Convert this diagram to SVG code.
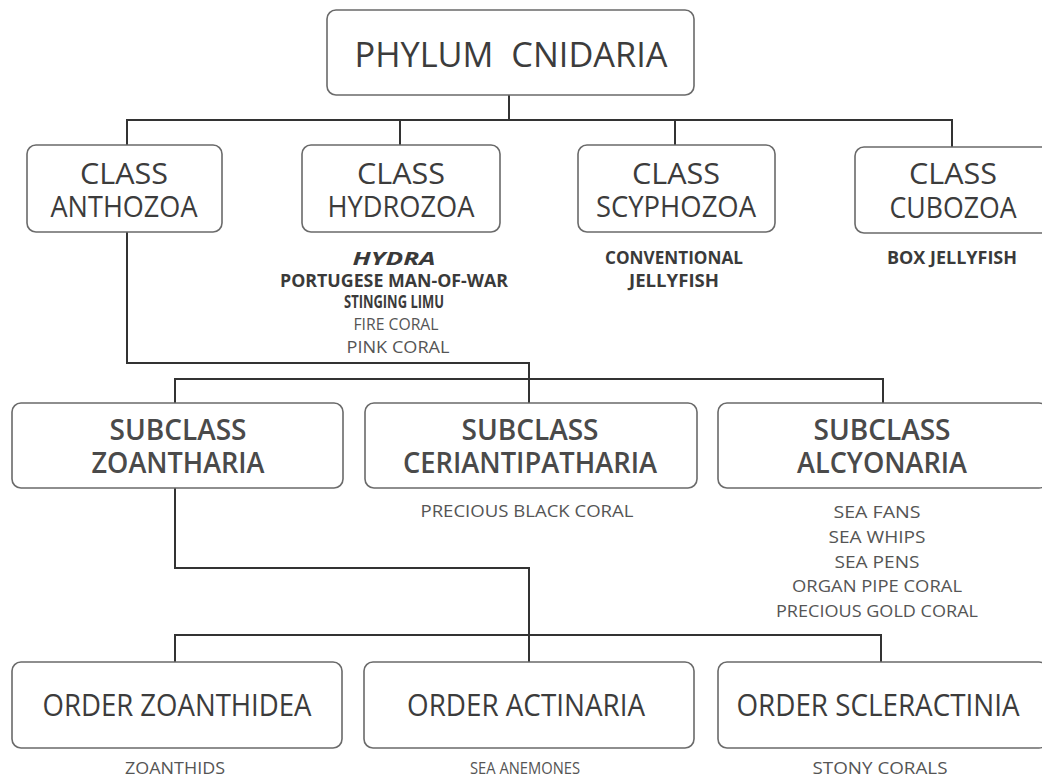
<svg xmlns="http://www.w3.org/2000/svg" width="1042" height="780" viewBox="0 0 1042 780">
<style>
.box{fill:#fff;stroke:#6a6a6a;stroke-width:1.6}
.conn{fill:none;stroke:#333;stroke-width:2}
.t{font-family:"Open Sans","Liberation Sans",sans-serif;fill:#3c3c3c;text-anchor:middle}
.ph{font-size:35px}
.cl{font-size:29px}
.sc{font-size:28px;font-weight:600;fill:#4a4a4a}
.or{font-size:31px}
.lb{font-size:17px;fill:#555}
.lbb{font-size:17px;font-weight:700;fill:#3a3a3a}
.it{font-style:italic}
</style>
<rect width="1042" height="780" fill="#fff"/>
<g id="connectors">
<path class="conn" d="M509 95 V120"/>
<path class="conn" d="M127 145 V120 H952 V148"/>
<path class="conn" d="M400 120 V145"/>
<path class="conn" d="M675 120 V145"/>
<path class="conn" d="M127 232 V363 H529 V403"/>
<path class="conn" d="M175 403 V379 H883 V403"/>
<path class="conn" d="M175 488 V568 H529 V662"/>
<path class="conn" d="M175 662 V635 H881 V662"/>
</g>
<g id="phylum">
<rect class="box" x="327" y="10" width="367" height="85" rx="9"/>
<text class="t ph" x="511" y="67" textLength="313" lengthAdjust="spacingAndGlyphs" xml:space="preserve">PHYLUM  CNIDARIA</text>
</g>
<g id="anthozoa">
<rect class="box" x="27" y="145" width="195" height="87" rx="9"/>
<text class="t cl" x="124" y="184" textLength="88" lengthAdjust="spacingAndGlyphs">CLASS</text>
<text class="t cl" x="124" y="217" textLength="147" lengthAdjust="spacingAndGlyphs">ANTHOZOA</text>
</g>
<g id="hydrozoa">
<rect class="box" x="302" y="145" width="198" height="87" rx="9"/>
<text class="t cl" x="401" y="184" textLength="88" lengthAdjust="spacingAndGlyphs">CLASS</text>
<text class="t cl" x="401" y="217" textLength="147" lengthAdjust="spacingAndGlyphs">HYDROZOA</text>
<text class="t lbb it" x="394" y="265" textLength="83" lengthAdjust="spacingAndGlyphs">HYDRA</text>
<text class="t lbb" x="394" y="287" textLength="228" lengthAdjust="spacingAndGlyphs">PORTUGESE MAN-OF-WAR</text>
<text class="t lbb" x="394" y="308" textLength="100" lengthAdjust="spacingAndGlyphs">STINGING LIMU</text>
<text class="t lb" x="396" y="330" textLength="85" lengthAdjust="spacingAndGlyphs">FIRE CORAL</text>
<text class="t lb" x="398" y="353" textLength="103" lengthAdjust="spacingAndGlyphs">PINK CORAL</text>
</g>
<g id="scyphozoa">
<rect class="box" x="578" y="145" width="197" height="87" rx="9"/>
<text class="t cl" x="676" y="184" textLength="88" lengthAdjust="spacingAndGlyphs">CLASS</text>
<text class="t cl" x="676" y="217" textLength="160" lengthAdjust="spacingAndGlyphs">SCYPHOZOA</text>
<text class="t lbb" x="674" y="264" textLength="138" lengthAdjust="spacingAndGlyphs">CONVENTIONAL</text>
<text class="t lbb" x="674" y="287" textLength="90" lengthAdjust="spacingAndGlyphs">JELLYFISH</text>
</g>
<g id="cubozoa">
<rect class="box" x="855" y="147" width="195" height="86" rx="9"/>
<text class="t cl" x="953" y="184" textLength="88" lengthAdjust="spacingAndGlyphs">CLASS</text>
<text class="t cl" x="953" y="218" textLength="127" lengthAdjust="spacingAndGlyphs">CUBOZOA</text>
<text class="t lbb" x="952" y="264" textLength="130" lengthAdjust="spacingAndGlyphs">BOX JELLYFISH</text>
</g>
<g id="zoantharia">
<rect class="box" x="12" y="403" width="331" height="85" rx="9"/>
<text class="t sc" x="178" y="440" textLength="137" lengthAdjust="spacingAndGlyphs">SUBCLASS</text>
<text class="t sc" x="178" y="473" textLength="173" lengthAdjust="spacingAndGlyphs">ZOANTHARIA</text>
</g>
<g id="ceriantipatharia">
<rect class="box" x="365" y="403" width="332" height="85" rx="9"/>
<text class="t sc" x="530" y="440" textLength="137" lengthAdjust="spacingAndGlyphs">SUBCLASS</text>
<text class="t sc" x="530" y="473" textLength="254" lengthAdjust="spacingAndGlyphs">CERIANTIPATHARIA</text>
<text class="t lb" x="527" y="517" textLength="213" lengthAdjust="spacingAndGlyphs">PRECIOUS BLACK CORAL</text>
</g>
<g id="alcyonaria">
<rect class="box" x="718" y="403" width="330" height="85" rx="9"/>
<text class="t sc" x="882" y="440" textLength="137" lengthAdjust="spacingAndGlyphs">SUBCLASS</text>
<text class="t sc" x="882" y="473" textLength="170" lengthAdjust="spacingAndGlyphs">ALCYONARIA</text>
<text class="t lb" x="877" y="518" textLength="87" lengthAdjust="spacingAndGlyphs">SEA FANS</text>
<text class="t lb" x="877" y="543" textLength="97" lengthAdjust="spacingAndGlyphs">SEA WHIPS</text>
<text class="t lb" x="877" y="568" textLength="85" lengthAdjust="spacingAndGlyphs">SEA PENS</text>
<text class="t lb" x="877" y="592" textLength="170" lengthAdjust="spacingAndGlyphs">ORGAN PIPE CORAL</text>
<text class="t lb" x="877" y="617" textLength="202" lengthAdjust="spacingAndGlyphs">PRECIOUS GOLD CORAL</text>
</g>
<g id="zoanthidea">
<rect class="box" x="12" y="662" width="330" height="86" rx="9"/>
<text class="t or" x="177" y="716" textLength="269" lengthAdjust="spacingAndGlyphs">ORDER ZOANTHIDEA</text>
<text class="t lb" x="175" y="774" textLength="100" lengthAdjust="spacingAndGlyphs">ZOANTHIDS</text>
</g>
<g id="actinaria">
<rect class="box" x="364" y="662" width="330" height="86" rx="9"/>
<text class="t or" x="526" y="716" textLength="238" lengthAdjust="spacingAndGlyphs">ORDER ACTINARIA</text>
<text class="t lb" x="525" y="774" textLength="110" lengthAdjust="spacingAndGlyphs">SEA ANEMONES</text>
</g>
<g id="scleractinia">
<rect class="box" x="718" y="662" width="330" height="86" rx="9"/>
<text class="t or" x="878" y="716" textLength="283" lengthAdjust="spacingAndGlyphs">ORDER SCLERACTINIA</text>
<text class="t lb" x="880" y="774" textLength="135" lengthAdjust="spacingAndGlyphs">STONY CORALS</text>
</g>
</svg>
